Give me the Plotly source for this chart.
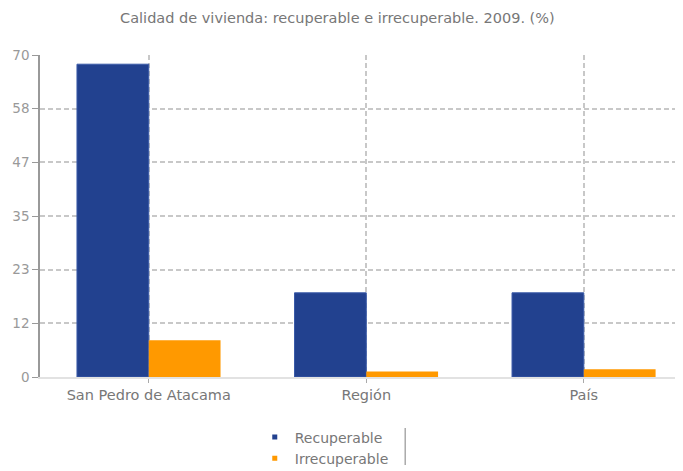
import plotly.graph_objects as go

categorias = ["San Pedro de Atacama", "Región", "País"]
recuperable = [68.0, 18.3, 18.3]
irrecuperable = [8.0, 1.2, 1.7]
y_ticks = [0, 70 / 6, 140 / 6, 35, 280 / 6, 350 / 6, 70]
y_labels = ["0", "12", "23", "35", "47", "58", "70"]

AZUL = "#22418f"
NARANJA = "#ff9900"
GRIS = "#999999"
FUENTE = "DejaVu Sans"

fig = go.Figure()
fig.add_trace(go.Bar(x=categorias, y=recuperable, name="Recuperable",
                     marker=dict(color=AZUL, line=dict(color="#3a5aa8", width=1)),
                     showlegend=False))
fig.add_trace(go.Bar(x=categorias, y=irrecuperable, name="Irrecuperable",
                     marker=dict(color=NARANJA, line=dict(width=0)),
                     showlegend=False))

# entradas de leyenda con cuadraditos pequeños
for nombre, color in [("Recuperable", AZUL), ("Irrecuperable", NARANJA)]:
    fig.add_trace(go.Scatter(x=[None], y=[None], mode="markers", name=nombre,
                             marker=dict(symbol="square", size=5, color=color)))

# la página tiene 8px de margen en el body, se compensa con el tamaño
fig.update_layout(
    width=675, height=463,
    plot_bgcolor="white", paper_bgcolor="white",
    margin=dict(l=32, r=0, t=47, b=94, autoexpand=False),
    font=dict(family=FUENTE, size=13, color="#777777"),
    title=dict(text="Calidad de vivienda: recuperable e irrecuperable. 2009. (%)",
               x=0.488, xanchor="center", y=0.978, yanchor="middle",
               font=dict(family=FUENTE, size=14.5, color="#777777")),
    barmode="group", bargap=0.34, bargroupgap=0,
    legend=dict(orientation="v", x=0.334, xanchor="left",
                yref="container", y=0.107, yanchor="top",
                font=dict(size=14, color="#777777"), itemwidth=30,
                tracegroupgap=0, bgcolor="rgba(0,0,0,0)"),
    xaxis=dict(range=[-0.5, 2.456], showgrid=True, gridcolor="#c8c8c8", griddash="5px,3px",
               gridwidth=1.5, ticks="outside", ticklen=4, tickcolor="#aaaaaa",
               showline=True, linecolor="#e2e2e2", linewidth=2,
               tickfont=dict(size=14.5, color="#777777")),
    yaxis=dict(range=[0, 70], tickvals=y_ticks, ticktext=y_labels,
               showgrid=True, gridcolor="#c8c8c8", griddash="5px,3px", gridwidth=1.5,
               showline=True, linecolor=GRIS, linewidth=1.5,
               ticks="outside", ticklen=6, tickcolor=GRIS, zeroline=False,
               tickfont=dict(size=13.5, color="#999999")),
)

# corchete a la derecha de la leyenda
fig.add_shape(type="line", xref="paper", yref="paper", x0=0.568, x1=0.568,
              y0=-0.158, y1=-0.273, line=dict(color="#aaaaaa", width=1.5))

fig.write_html("out.html")
